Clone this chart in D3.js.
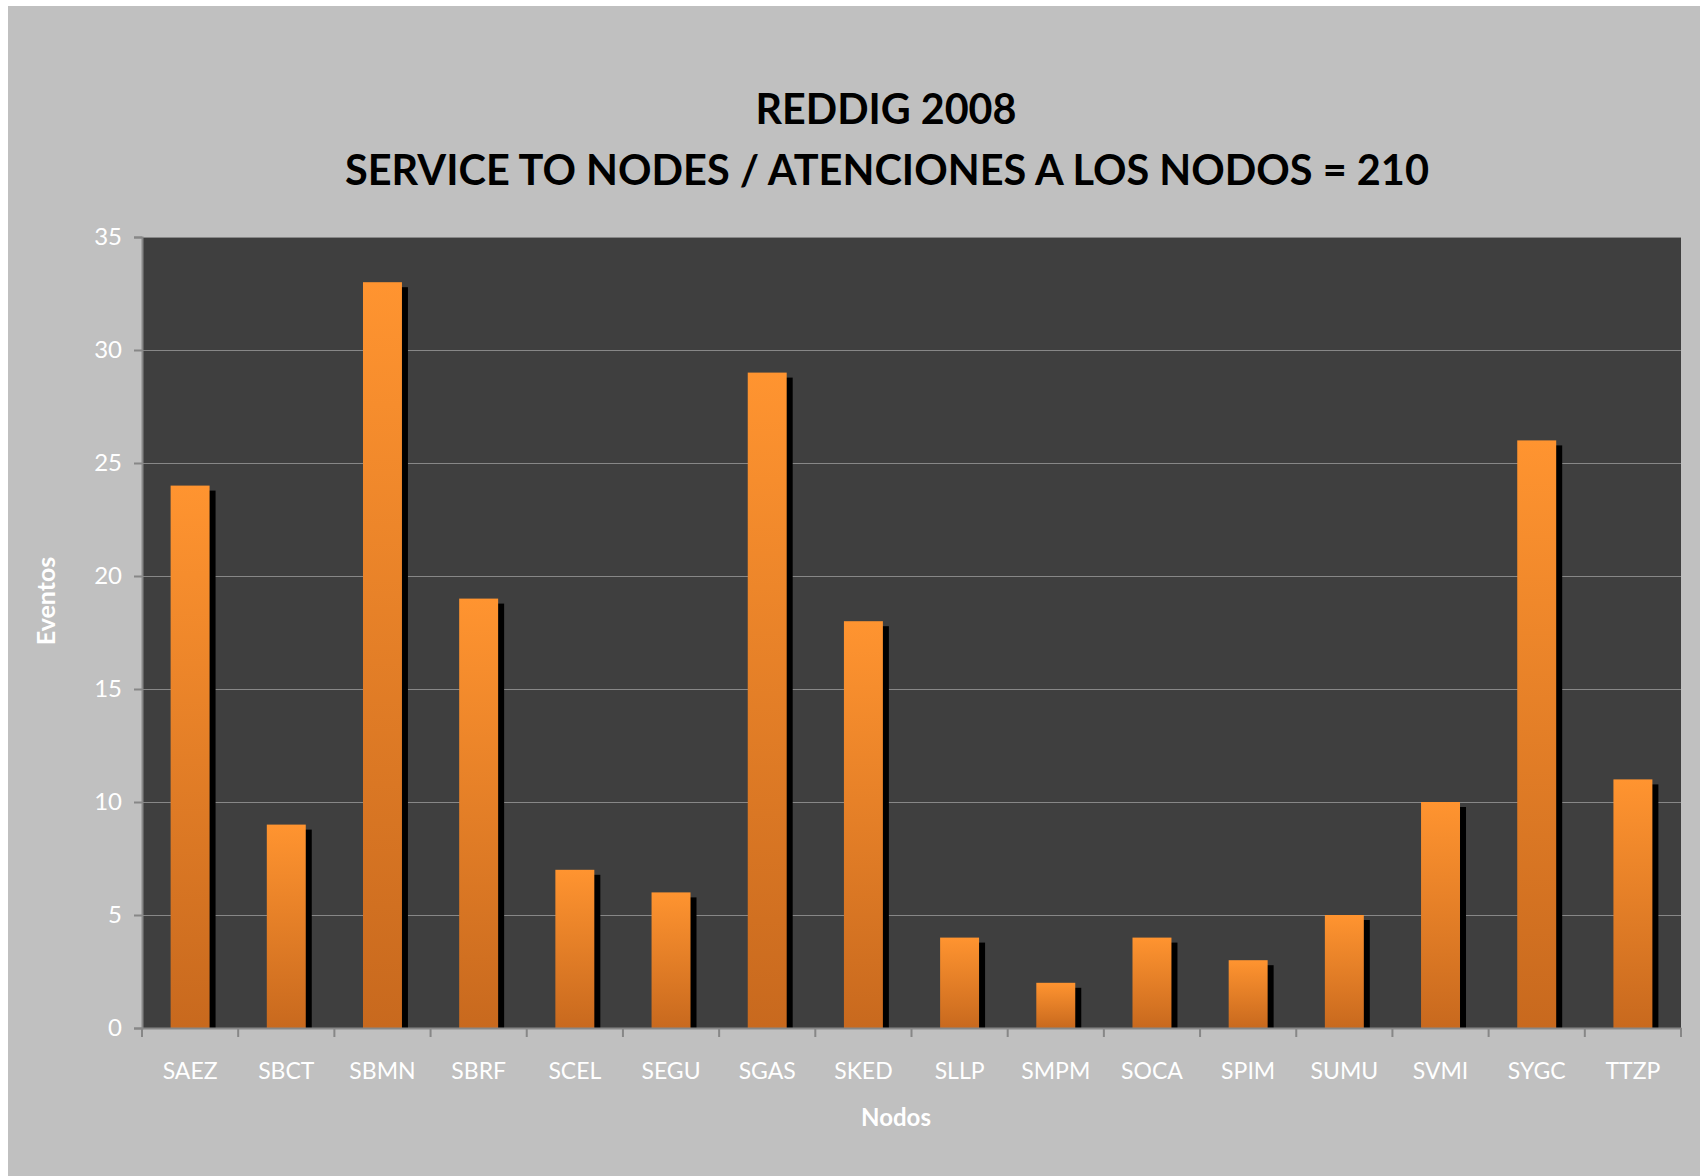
<!DOCTYPE html>
<html>
<head>
<meta charset="utf-8">
<script src="https://cdn.jsdelivr.net/npm/d3@7"></script>
<style>
    body { margin: 0; background: #ffffff; }
    svg { display: block; }
</style>
</head>
<body>
<script>
//chart data
let nodes = ["SAEZ", "SBCT", "SBMN", "SBRF", "SCEL", "SEGU", "SGAS", "SKED",
             "SLLP", "SMPM", "SOCA", "SPIM", "SUMU", "SVMI", "SYGC", "TTZP"];
let eventos = [24, 9, 33, 19, 7, 6, 29, 18, 4, 2, 4, 3, 5, 10, 26, 11];
let yTicks = [0, 5, 10, 15, 20, 25, 30, 35];
let titleLines = ["REDDIG 2008", "SERVICE TO NODES / ATENCIONES A LOS NODOS = 210"];

window.onload = drawChart();

function drawChart() {
    let width = 1700,
        height = 1176;

    let plot = { left: 142, right: 1681, top: 237, bottom: 1028 };

    let svg = d3.select("body")
        .append("svg")
        .attr("width", width)
        .attr("height", height);

    //outer chart area
    svg.append("rect")
        .attr("x", 8).attr("y", 6)
        .attr("width", width - 8).attr("height", height - 6)
        .attr("fill", "#c0c0c0");

    //bar gradient, light at top, darker at base
    let grad = svg.append("defs").append("linearGradient")
        .attr("id", "barGrad")
        .attr("x1", 0).attr("y1", 0).attr("x2", 0).attr("y2", 1);
    grad.append("stop").attr("offset", "0%").attr("stop-color", "#ff9430");
    grad.append("stop").attr("offset", "100%").attr("stop-color", "#c8691e");

    let x = d3.scaleBand()
        .domain(nodes)
        .range([plot.left, plot.right])
        .padding(0);

    let y = d3.scaleLinear()
        .domain([0, 35])
        .range([plot.bottom, plot.top]);

    //plot background
    svg.append("rect")
        .attr("x", plot.left).attr("y", plot.top)
        .attr("width", plot.right - plot.left)
        .attr("height", plot.bottom - plot.top)
        .attr("fill", "#3f3f3f");

    //gridlines
    svg.append("g")
        .selectAll("line")
        .data(yTicks.filter(d => d > 0))
        .enter()
        .append("line")
        .attr("x1", plot.left).attr("x2", plot.right)
        .attr("y1", d => y(d) + 0.5).attr("y2", d => y(d) + 0.5)
        .attr("stroke", "#878787")
        .attr("stroke-width", 1.2);

    let barW = x.bandwidth() * 0.405;
    let shadowDx = 6, shadowDy = 5;

    //shadows behind bars
    svg.append("g")
        .selectAll("rect")
        .data(nodes)
        .enter()
        .append("rect")
        .attr("x", d => x(d) + (x.bandwidth() - barW) / 2 + shadowDx)
        .attr("y", (d, i) => y(eventos[i]) + shadowDy)
        .attr("width", barW)
        .attr("height", (d, i) => plot.bottom - y(eventos[i]) - shadowDy)
        .attr("fill", "#000000");

    //bars
    svg.append("g")
        .selectAll("rect")
        .data(nodes)
        .enter()
        .append("rect")
        .attr("x", d => x(d) + (x.bandwidth() - barW) / 2)
        .attr("y", (d, i) => y(eventos[i]))
        .attr("width", barW)
        .attr("height", (d, i) => plot.bottom - y(eventos[i]))
        .attr("fill", "url(#barGrad)");

    //y axis
    let yAxis = svg.append("g")
        .attr("transform", "translate(" + plot.left + ",0)")
        .call(d3.axisLeft(y).tickValues(yTicks).tickSize(8).tickPadding(12));
    yAxis.selectAll("text")
        .attr("fill", "#ffffff")
        .style("font-family", "Lato, 'Open Sans', sans-serif")
        .style("font-size", "24px");

    //x axis, ticks at category boundaries
    let xAxis = svg.append("g")
        .attr("transform", "translate(0," + plot.bottom + ")")
        .call(d3.axisBottom(x).tickSize(0).tickPadding(35));
    xAxis.selectAll("text")
        .attr("fill", "#ffffff")
        .style("font-family", "Lato, 'Open Sans', sans-serif")
        .style("font-size", "23px");
    xAxis.selectAll(".bound")
        .data(nodes.concat(["end"]))
        .enter()
        .append("line")
        .attr("class", "bound")
        .attr("x1", (d, i) => plot.left + i * x.step())
        .attr("x2", (d, i) => plot.left + i * x.step())
        .attr("y1", 0).attr("y2", 9);

    svg.selectAll(".domain, .tick line, .bound")
        .attr("stroke", "#878787")
        .attr("stroke-width", 2);

    //titles
    svg.append("text")
        .attr("x", 886).attr("y", 124)
        .attr("text-anchor", "middle")
        .attr("textLength", 261)
        .attr("lengthAdjust", "spacingAndGlyphs")
        .style("font-family", "Lato, 'Open Sans', sans-serif")
        .style("font-weight", "bold")
        .style("font-size", "42px")
        .text(titleLines[0]);

    svg.append("text")
        .attr("x", 887).attr("y", 185)
        .attr("text-anchor", "middle")
        .attr("textLength", 1084)
        .attr("lengthAdjust", "spacingAndGlyphs")
        .style("font-family", "Lato, 'Open Sans', sans-serif")
        .style("font-weight", "bold")
        .style("font-size", "42px")
        .text(titleLines[1]);

    //axis titles
    svg.append("text")
        .attr("x", 896).attr("y", 1126)
        .attr("text-anchor", "middle")
        .attr("fill", "#ffffff")
        .style("font-family", "Lato, 'Open Sans', sans-serif")
        .style("font-weight", "bold")
        .style("font-size", "24px")
        .text("Nodos");

    svg.append("text")
        .attr("transform", "translate(55,601) rotate(-90)")
        .attr("text-anchor", "middle")
        .attr("fill", "#ffffff")
        .style("font-family", "Lato, 'Open Sans', sans-serif")
        .style("font-weight", "bold")
        .style("font-size", "25px")
        .text("Eventos");
}
</script>
</body>
</html>
